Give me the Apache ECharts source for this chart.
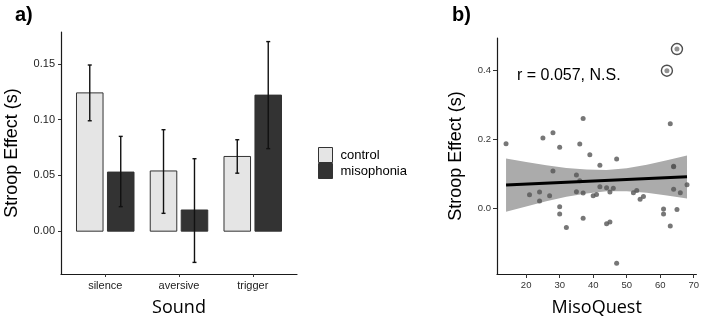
<!DOCTYPE html>
<html>
<head>
<meta charset="utf-8">
<script src="https://cdn.jsdelivr.net/npm/echarts@6/dist/echarts.min.js"></script>
<style>
  html, body { margin: 0; padding: 0; background: #fff; }
  #chart { width: 702px; height: 322px; }
</style>
</head>
<body>
<div id="chart"></div>
<script>
// panel a) Stroop effect per sound condition (mean and error bar ends)
const sounds = ['silence', 'aversive', 'trigger']
const controlMean = [0.124, 0.054, 0.067]
const controlLow = [0.099, 0.016, 0.052]
const controlHigh = [0.149, 0.091, 0.082]
const misoMean = [0.053, 0.019, 0.122]
const misoLow = [0.022, -0.028, 0.074]
const misoHigh = [0.085, 0.065, 0.170]
const barTicks = [0, 0.05, 0.10, 0.15]

// panel b) MisoQuest score vs Stroop effect
const misoQuest = [14, 21, 24, 24, 25, 27, 28, 28, 30, 30, 30, 32, 35, 35, 36, 36, 37, 37, 37, 39,
  40, 41, 42, 42, 44, 44, 45, 45, 46, 47, 47, 52, 53, 54, 55, 61, 61, 63, 63, 64, 64, 64, 65, 66, 68]
const stroop = [0.188, 0.040, 0.048, 0.022, 0.205, 0.037, 0.220, 0.109, 0.178, 0.005, -0.016, -0.055,
  0.097, 0.049, 0.187, 0.081, 0.261, 0.045, -0.028, 0.156, 0.037, 0.041, 0.126, 0.063, 0.060, -0.044,
  0.048, -0.039, 0.059, 0.144, -0.159, 0.046, 0.052, 0.027, 0.035, -0.001, -0.016, 0.246, -0.051,
  0.121, 0.123, 0.056, -0.003, 0.046, 0.069]
const outlierQuest = [62, 65]
const outlierStroop = [0.400, 0.463]
const fitX = [14, 68]
const fitY = [0.068, 0.092]
const bandX = [14, 20, 26, 32, 38, 44, 50, 56, 62, 68]
const bandLow = [-0.009, 0.006, 0.021, 0.034, 0.044, 0.050, 0.050, 0.046, 0.038, 0.029]
const bandHigh = [0.145, 0.135, 0.126, 0.118, 0.113, 0.112, 0.117, 0.127, 0.140, 0.154]
const scatterXTicks = [20, 30, 40, 50, 60, 70]
const scatterYTicks = [0, 0.2, 0.4]

const BAR_W = 0.36
const SHIFT = 0.21
const AXIS_COLOR = '#1a1a1a'

const chart = echarts.init(document.getElementById('chart'))

const barSeries = (name, means, lows, highs, shift, fill) => ({
  name,
  type: 'custom',
  xAxisIndex: 0,
  yAxisIndex: 0,
  data: means.map((m, i) => [i + 1 + shift, m, lows[i], highs[i]]),
  encode: { x: 0, y: [1, 2, 3] },
  renderItem: (params, api) => {
    const x = api.value(0)
    const topLeft = api.coord([x - BAR_W / 2, api.value(1)])
    const bottomRight = api.coord([x + BAR_W / 2, 0])
    const lo = api.coord([x, api.value(2)])
    const hi = api.coord([x, api.value(3)])
    const errStyle = { stroke: '#111', lineWidth: 1.4 }
    return {
      type: 'group',
      children: [
        {
          type: 'rect',
          shape: {
            x: topLeft[0], y: topLeft[1],
            width: bottomRight[0] - topLeft[0],
            height: bottomRight[1] - topLeft[1]
          },
          style: { fill, stroke: '#333', lineWidth: 1 }
        },
        { type: 'line', shape: { x1: lo[0], y1: lo[1], x2: hi[0], y2: hi[1] }, style: errStyle },
        { type: 'line', shape: { x1: lo[0] - 2, y1: lo[1], x2: lo[0] + 2, y2: lo[1] }, style: errStyle },
        { type: 'line', shape: { x1: hi[0] - 2, y1: hi[1], x2: hi[0] + 2, y2: hi[1] }, style: errStyle }
      ]
    }
  }
})

const axisBase = {
  axisLine: { show: true, onZero: false, lineStyle: { color: AXIS_COLOR, width: 1.2 } },
  axisTick: { show: true, length: 4, lineStyle: { color: '#333' } },
  splitLine: { show: false },
  nameLocation: 'middle',
  nameTextStyle: { fontSize: 18, color: '#000' }
}

const option = {
  animation: false,
  backgroundColor: '#fff',
  textStyle: { fontFamily: 'Liberation Sans' },
  grid: [
    { left: 61, top: 32, width: 236, height: 243 },
    { left: 497, top: 38, width: 200, height: 238 }
  ],
  xAxis: [
    {
      ...axisBase,
      type: 'value',
      gridIndex: 0,
      min: 0.4,
      max: 3.6,
      axisTick: { ...axisBase.axisTick, length: 3, customValues: [1, 2, 3] },
      axisLabel: {
        customValues: [1, 2, 3],
        formatter: (v) => sounds[Math.round(v) - 1],
        fontSize: 11,
        color: '#222',
        margin: 6
      },
      name: 'Sound',
      nameGap: 25,
      nameTextStyle: { fontSize: 18, color: '#000', fontFamily: 'Open Sans' }
    },
    {
      ...axisBase,
      type: 'value',
      gridIndex: 1,
      min: 11.3,
      max: 70.8,
      axisTick: { ...axisBase.axisTick, customValues: scatterXTicks },
      axisLabel: { customValues: scatterXTicks, fontSize: 9.5, color: '#333', margin: 6 },
      name: 'MisoQuest',
      nameGap: 25,
      nameTextStyle: { fontSize: 18, color: '#000', fontFamily: 'Open Sans' }
    }
  ],
  yAxis: [
    {
      ...axisBase,
      type: 'value',
      gridIndex: 0,
      min: -0.0384,
      max: 0.1786,
      axisTick: { ...axisBase.axisTick, length: 3, customValues: barTicks },
      axisLabel: {
        customValues: barTicks,
        formatter: (v) => v.toFixed(2),
        fontSize: 11,
        color: '#222',
        margin: 6
      },
      name: 'Stroop Effect (s)',
      nameGap: 40,
      nameRotate: 90
    },
    {
      ...axisBase,
      type: 'value',
      gridIndex: 1,
      min: -0.19,
      max: 0.495,
      axisTick: { ...axisBase.axisTick, customValues: scatterYTicks },
      axisLabel: {
        customValues: scatterYTicks,
        formatter: (v) => v.toFixed(1),
        fontSize: 9.5,
        color: '#333',
        margin: 6
      },
      name: 'Stroop Effect (s)',
      nameGap: 32,
      nameRotate: 90
    }
  ],
  legend: {
    orient: 'vertical',
    left: 318,
    top: 147,
    padding: 0,
    itemGap: 0,
    itemWidth: 14,
    itemHeight: 15,
    icon: 'rect',
    selectedMode: false,
    textStyle: { fontSize: 13, color: '#000', lineHeight: 15, padding: [0, 0, 0, 3] },
    data: [
      { name: 'control', itemStyle: { color: '#e5e5e5', borderColor: '#333', borderWidth: 1 } },
      { name: 'misophonia', itemStyle: { color: '#333', borderColor: '#333', borderWidth: 1 } }
    ]
  },
  graphic: [
    { type: 'text', left: 15, top: 5, style: { text: 'a)', font: 'bold 20px "Liberation Sans"', fill: '#000' } },
    { type: 'text', left: 452, top: 5, style: { text: 'b)', font: 'bold 20px "Liberation Sans"', fill: '#000' } },
    { type: 'text', left: 517, top: 68, style: { text: 'r = 0.057, N.S.', font: '16px "Liberation Sans"', fill: '#000' } }
  ],
  series: [
    barSeries('control', controlMean, controlLow, controlHigh, -SHIFT, '#e5e5e5'),
    barSeries('misophonia', misoMean, misoLow, misoHigh, SHIFT, '#333'),
    {
      name: 'band',
      type: 'custom',
      xAxisIndex: 1,
      yAxisIndex: 1,
      data: bandX.map((x, i) => [x, bandLow[i], bandHigh[i]]),
      encode: { x: 0, y: [1, 2] },
      z: 1,
      renderItem: (params, api) => {
        if (params.dataIndex !== 0) return null
        const upper = bandX.map((x, i) => api.coord([x, bandHigh[i]]))
        const lower = bandX.map((x, i) => api.coord([x, bandLow[i]])).reverse()
        return {
          type: 'polygon',
          shape: { points: upper.concat(lower) },
          style: { fill: '#ababab' }
        }
      }
    },
    {
      name: 'points',
      type: 'scatter',
      xAxisIndex: 1,
      yAxisIndex: 1,
      z: 2,
      symbolSize: 5,
      itemStyle: { color: '#555' },
      data: misoQuest.map((x, i) => [x, stroop[i]])
    },
    {
      name: 'outlier dots',
      type: 'scatter',
      xAxisIndex: 1,
      yAxisIndex: 1,
      z: 2,
      symbolSize: 5,
      itemStyle: { color: '#777' },
      data: outlierQuest.map((x, i) => [x, outlierStroop[i]])
    },
    {
      name: 'outlier rings',
      type: 'scatter',
      xAxisIndex: 1,
      yAxisIndex: 1,
      z: 3,
      symbolSize: 11,
      itemStyle: { color: 'rgba(0,0,0,0)', borderColor: '#222', borderWidth: 1.4 },
      data: outlierQuest.map((x, i) => [x, outlierStroop[i]])
    },
    {
      name: 'fit',
      type: 'line',
      xAxisIndex: 1,
      yAxisIndex: 1,
      z: 4,
      symbol: 'none',
      lineStyle: { color: '#000', width: 3 },
      data: fitX.map((x, i) => [x, fitY[i]])
    }
  ]
}

chart.setOption(option)
</script>
</body>
</html>
